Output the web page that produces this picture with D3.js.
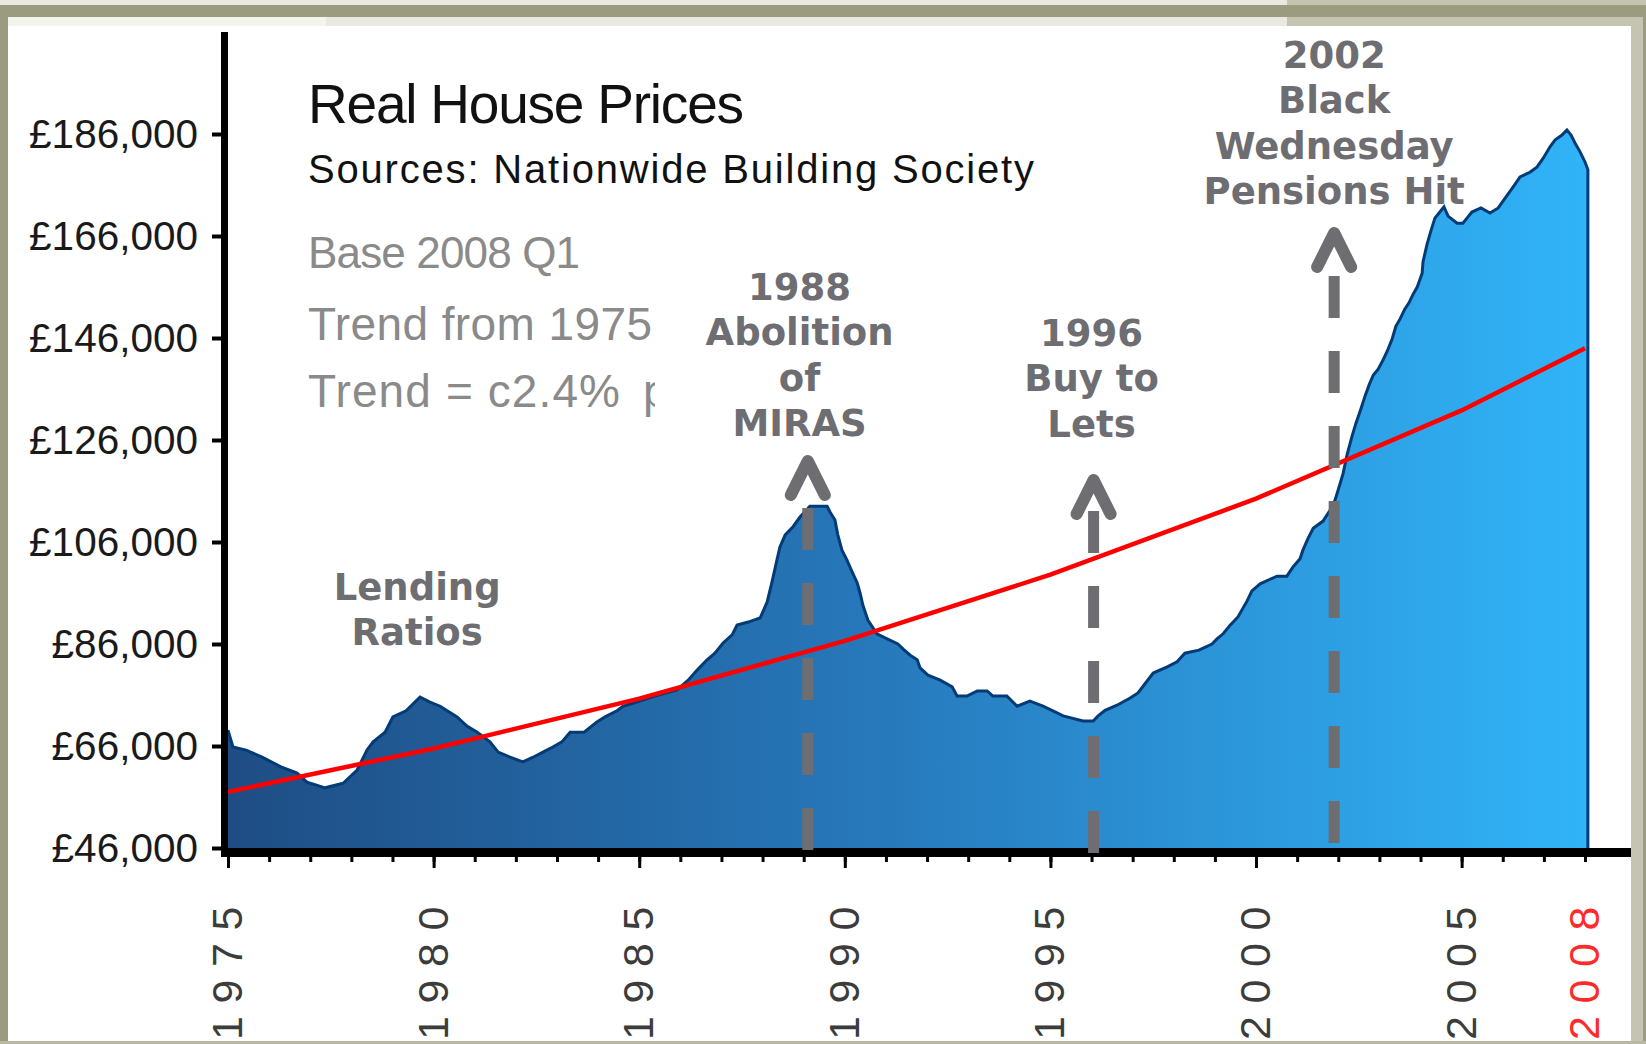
<!DOCTYPE html>
<html>
<head>
<meta charset="utf-8">
<script src="https://cdn.jsdelivr.net/npm/d3@7"></script>
<style>
html, body { margin: 0; padding: 0; background: #fff; }
svg { display: block; }
</style>
</head>
<body>
<svg></svg>
<script>
// real house price (decimal year, £)
const years = [
  1975.00, 1975.12, 1975.44, 1975.83, 1976.29, 1976.68, 1976.92, 1977.36, 1977.80, 1978.14,
  1978.38, 1978.53, 1978.82, 1979.01, 1979.33, 1979.67, 1979.91, 1980.16, 1980.33, 1980.57,
  1980.81, 1981.06, 1981.37, 1981.57, 1981.86, 1982.17, 1982.42, 1982.66, 1982.90, 1983.12,
  1983.32, 1983.66, 1983.97, 1984.17, 1984.46, 1984.61, 1985.02, 1985.38, 1985.92, 1986.19,
  1986.41, 1986.65, 1986.84, 1987.04, 1987.26, 1987.38, 1987.65, 1987.94, 1988.11, 1988.23,
  1988.35, 1988.42, 1988.55, 1988.74, 1988.91, 1989.15, 1989.57, 1989.64, 1989.76, 1989.83,
  1989.93, 1990.05, 1990.18, 1990.30, 1990.37, 1990.44, 1990.56, 1990.78, 1991.03, 1991.29,
  1991.42, 1991.59, 1991.76, 1991.83, 1992.02, 1992.32, 1992.61, 1992.73, 1992.97, 1993.22,
  1993.46, 1993.60, 1993.94, 1994.19, 1994.50, 1994.82, 1995.06, 1995.31, 1995.79, 1996.04,
  1996.16, 1996.33, 1996.62, 1996.94, 1997.13, 1997.30, 1997.50, 1997.84, 1998.08, 1998.27,
  1998.61, 1998.93, 1999.05, 1999.20, 1999.37, 1999.56, 1999.78, 1999.90, 2000.10, 2000.51,
  2000.75, 2000.90, 2001.07, 2001.14, 2001.26, 2001.39, 2001.63, 2001.80, 2001.92, 2001.99,
  2002.12, 2002.21, 2002.33, 2002.43, 2002.55, 2002.65, 2002.75, 2002.85, 2002.97, 2003.09,
  2003.19, 2003.31, 2003.40, 2003.50, 2003.62, 2003.72, 2003.82, 2003.92, 2004.04, 2004.06,
  2004.16, 2004.26, 2004.35, 2004.47, 2004.57, 2004.67, 2004.89, 2005.03, 2005.13, 2005.25,
  2005.47, 2005.69, 2005.89, 2006.01, 2006.18, 2006.25, 2006.42, 2006.66, 2006.83, 2006.98,
  2007.15, 2007.27, 2007.44, 2007.56, 2007.66, 2007.76, 2007.88, 2008.00, 2008.07
];
const prices = [
  69100, 65800, 65200, 63800, 61900, 60700, 58900, 57800, 58700, 61300,
  65200, 66800, 68700, 71700, 72900, 75600, 74600, 73800, 72900, 71700,
  69900, 68700, 66800, 64800, 63800, 62900, 63800, 64800, 65800, 66800,
  68700, 68700, 70700, 71700, 72900, 73800, 74800, 75800, 77000, 78900,
  80900, 82900, 84200, 86200, 87800, 89700, 90300, 91100, 94200, 98200,
  102500, 105000, 107400, 109000, 110900, 113000, 113000, 111900, 110300, 107400,
  104400, 102500, 100100, 98000, 96000, 93600, 90700, 88000, 87000, 86000,
  85000, 83800, 82900, 81300, 79900, 78900, 77600, 75800, 75800, 76800,
  76800, 75800, 75800, 73800, 74800, 73800, 72900, 71900, 70900, 70900,
  71900, 73000, 74000, 75400, 76400, 78200, 80300, 81500, 82500, 84200,
  84800, 86000, 87000, 88000, 89700, 91300, 94400, 96400, 97800, 99300,
  99300, 101100, 102700, 104400, 106600, 108700, 110100, 112200, 114200, 116000,
  119500, 123000, 126600, 129300, 132100, 134600, 136800, 138700, 139900, 141700,
  143400, 145800, 148300, 149700, 151700, 152900, 154600, 156000, 158700, 160900,
  164400, 167200, 169500, 170700, 171700, 169900, 168500, 168500, 169500, 170700,
  171500, 170500, 171500, 172900, 174800, 175600, 177600, 178500, 179500, 181200,
  183500, 184800, 185800, 186800, 185800, 184200, 182500, 180500, 179000
];

// trend from 1975
const trendYears = [1975, 1980, 1985, 1990, 1995, 2000, 2005, 2008];
const trendValues = [57000, 65500, 75300, 86600, 99600, 114500, 131800, 144000];

const yTicks = [46000, 66000, 86000, 106000, 126000, 146000, 166000, 186000];
const majorYears = [1975, 1980, 1985, 1990, 1995, 2000, 2005];
const minorYears = d3.range(1975, 2009);
const xLabels = ["1975", "1980", "1985", "1990", "1995", "2000", "2005", "2008"];
const xLabelYears = [1975, 1980, 1985, 1990, 1995, 2000, 2005, 2008];

const titleLines = ["Real House Prices", "Sources: Nationwide Building Society"];
const noteLines = ["Base 2008 Q1", "Trend from 1975", "Trend = c2.4%"];

const eventYears = [1989.1, 1996.05, 2001.9];
const eventLabels = [
  ["1988", "Abolition", "of", "MIRAS"],
  ["1996", "Buy to", "Lets"],
  ["2002", "Black", "Wednesday", "Pensions Hit"]
];
const lendingLabel = ["Lending", "Ratios"];

const W = 1646, H = 1044;
const svg = d3.select("svg").attr("width", W).attr("height", H);

// frame round the picture
svg.append("rect").attr("width", W).attr("height", H).attr("fill", "#c4c4b0");
svg.append("rect").attr("x", 0).attr("y", 0).attr("width", 1287).attr("height", 5).attr("fill", "#e9e9e1");
svg.append("rect").attr("x", 0).attr("y", 5).attr("width", W).attr("height", 12).attr("fill", "#9b9b80");
svg.append("rect").attr("x", 0).attr("y", 5).attr("width", 8).attr("height", H).attr("fill", "#9b9b80");
svg.append("rect").attr("x", 1643).attr("y", 5).attr("width", 3).attr("height", H).attr("fill", "#9b9b80");
svg.append("rect").attr("x", 8).attr("y", 17).attr("width", 1279).attr("height", 9).attr("fill", "#e9e9e1");
svg.append("rect").attr("x", 8).attr("y", 17).attr("width", 318).attr("height", 9).attr("fill", "#f4f4ef");
svg.append("rect").attr("x", 8).attr("y", 26).attr("width", 1623).attr("height", 1015).attr("fill", "#fff");
svg.append("rect").attr("x", 0).attr("y", 1041).attr("width", W).attr("height", 3).attr("fill", "#b8b8a4");

const defs = svg.append("defs");
defs.append("clipPath").attr("id", "inner")
  .append("rect").attr("x", 8).attr("y", 26).attr("width", 1623).attr("height", 1015);
defs.append("clipPath").attr("id", "noteclip")
  .append("rect").attr("x", 300).attr("y", 360).attr("width", 355).attr("height", 70);

const grad = defs.append("linearGradient").attr("id", "fillgrad")
  .attr("gradientUnits", "userSpaceOnUse")
  .attr("x1", 228).attr("y1", 0).attr("x2", 1588).attr("y2", 0);
grad.append("stop").attr("offset", 0).attr("stop-color", "#1e4d84");
grad.append("stop").attr("offset", 0.45).attr("stop-color", "#2676b8");
grad.append("stop").attr("offset", 1).attr("stop-color", "#31b4f9");

const x = d3.scaleLinear().domain([1975, 2008]).range([228, 1585]);
const y = d3.scaleLinear().domain([46000, 206000]).range([848, 32]);

const chart = svg.append("g").attr("clip-path", "url(#inner)");

const series = d3.zip(years, prices);

const area = d3.area()
  .x(d => x(d[0]))
  .y0(y(46000))
  .y1(d => y(d[1]));

chart.append("path")
  .datum(series)
  .attr("d", area)
  .attr("fill", "url(#fillgrad)");

const line = d3.line().x(d => x(d[0])).y(d => y(d[1]));

chart.append("path")
  .datum(series)
  .attr("d", d => line(d) + "V" + y(46000))
  .attr("fill", "none")
  .attr("stroke", "#033b77")
  .attr("stroke-width", 3);

chart.append("path")
  .datum(d3.zip(trendYears, trendValues))
  .attr("d", line)
  .attr("fill", "none")
  .attr("stroke", "#ff0000")
  .attr("stroke-width", 4.5);

// axes
chart.append("rect").attr("x", 221).attr("y", 848).attr("width", 1410).attr("height", 9).attr("fill", "#000");
chart.append("rect").attr("x", 221).attr("y", 32).attr("width", 7).attr("height", 825).attr("fill", "#000");

const yAxis = chart.append("g")
  .attr("transform", "translate(221,0)")
  .call(d3.axisLeft(y).tickValues(yTicks).tickSize(9).tickSizeOuter(0)
    .tickFormat(d => "£" + d3.format(",")(d)));
yAxis.select(".domain").remove();
yAxis.selectAll("line").attr("stroke", "#000").attr("stroke-width", 4);
yAxis.selectAll("text")
  .attr("x", -23)
  .attr("dy", null)
  .attr("y", 13)
  .attr("fill", "#1a1a1a")
  .style("font-family", "'Liberation Sans', Arial, sans-serif")
  .style("font-size", "40.5px");

const minorAxis = chart.append("g")
  .attr("transform", "translate(0,857)")
  .call(d3.axisBottom(x).tickValues(minorYears).tickSize(5).tickFormat(""));
minorAxis.select(".domain").remove();
minorAxis.selectAll("line").attr("stroke", "#000").attr("stroke-width", 3);

const majorAxis = chart.append("g")
  .attr("transform", "translate(0,857)")
  .call(d3.axisBottom(x).tickValues(majorYears).tickSize(11).tickFormat(""));
majorAxis.select(".domain").remove();
majorAxis.selectAll("line").attr("stroke", "#000").attr("stroke-width", 3);

chart.selectAll("text.xlab")
  .data(xLabelYears)
  .enter()
  .append("text")
  .attr("class", "xlab")
  .attr("transform", d => `translate(${x(d) + 14},1040) rotate(-90)`)
  .attr("fill", (d, i) => i === xLabels.length - 1 ? "#ff2a2a" : "#3c3c3c")
  .style("font-family", "'Liberation Sans', Arial, sans-serif")
  .style("font-size", "43px")
  .style("letter-spacing", "12.6px")
  .text((d, i) => xLabels[i]);

// title block
const titleFont = "'Liberation Sans', Arial, sans-serif";
chart.append("text").attr("x", 308).attr("y", 123)
  .attr("textLength", 436)
  .attr("fill", "#111").style("font-family", titleFont).style("font-size", "55px")
  .text(titleLines[0]);
chart.append("text").attr("x", 308).attr("y", 183)
  .attr("textLength", 726)
  .attr("fill", "#111").style("font-family", titleFont).style("font-size", "40px")
  .text(titleLines[1]);
chart.append("text").attr("x", 308).attr("y", 268)
  .attr("textLength", 272)
  .attr("fill", "#8a8a8a").style("font-family", titleFont).style("font-size", "44px")
  .text(noteLines[0]);
chart.append("text").attr("x", 308).attr("y", 340)
  .attr("textLength", 344)
  .attr("fill", "#8a8a8a").style("font-family", titleFont).style("font-size", "46px")
  .text(noteLines[1]);
const noteGroup = chart.append("g").attr("clip-path", "url(#noteclip)");
noteGroup.append("text").attr("x", 308).attr("y", 407)
  .attr("textLength", 312)
  .attr("fill", "#8a8a8a").style("font-family", titleFont).style("font-size", "46px")
  .text(noteLines[2]);
noteGroup.append("text").attr("x", 643).attr("y", 407)
  .attr("fill", "#8a8a8a").style("font-family", titleFont).style("font-size", "46px")
  .text("p.a.");

// event arrows
const grey = "#6d6d72";
const dashStart = [850, 853, 843];
const dashEnd = [508, 511, 276];
const arrowTip = [461, 480, 233];

eventYears.forEach((yr, i) => {
  const ex = x(yr);
  chart.append("path")
    .attr("d", `M${ex},${dashStart[i]}V${dashEnd[i]}`)
    .attr("stroke", grey)
    .attr("stroke-width", 11)
    .attr("stroke-dasharray", "42 33")
    .attr("fill", "none");
  chart.append("path")
    .attr("d", `M${ex - 17},${arrowTip[i] + 34}L${ex},${arrowTip[i]}L${ex + 17},${arrowTip[i] + 34}`)
    .attr("stroke", grey)
    .attr("stroke-width", 12)
    .attr("stroke-linecap", "round")
    .attr("stroke-linejoin", "round")
    .attr("fill", "none");
});

// annotation text
const boldFont = "'DejaVu Sans', Verdana, sans-serif";
const labelCentres = [1988.9, 1996.0, 2001.9];
const labelTops = [300, 346, 68];

function block(lines, cx, top) {
  const t = chart.append("text")
    .attr("text-anchor", "middle")
    .attr("fill", grey)
    .style("font-family", boldFont)
    .style("font-weight", "bold")
    .style("font-size", "37px");
  lines.forEach((s, j) => {
    t.append("tspan").attr("x", cx).attr("y", top + j * 45.3).text(s);
  });
}

eventLabels.forEach((lines, i) => block(lines, x(labelCentres[i]), labelTops[i]));
block(lendingLabel, x(1979.6), 600);
</script>
</body>
</html>
